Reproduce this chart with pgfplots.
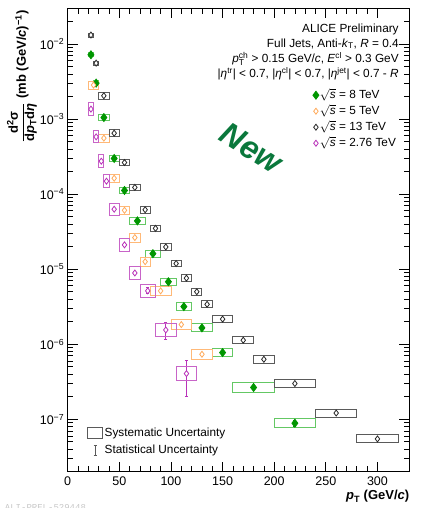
\documentclass[border=0pt]{standalone}
\usepackage{pgfplots}
\pgfplotsset{compat=1.18}
\usepackage{pgfplotstable}
\usepackage{fontspec}
\setmainfont{Liberation Sans}
\setmonofont{Liberation Mono}

\definecolor{gM}{RGB}{0,150,0}
\definecolor{gB}{RGB}{100,200,100}
\definecolor{oM}{RGB}{255,170,90}
\definecolor{oB}{RGB}{255,185,120}
\definecolor{kM}{RGB}{40,40,40}
\definecolor{kB}{RGB}{90,90,90}
\definecolor{pM}{RGB}{185,50,185}
\definecolor{pB}{RGB}{200,100,200}
\definecolor{newgreen}{RGB}{10,120,60}

\newcommand{\sm}[1]{\mbox{\fontsize{8.5}{8.5}\selectfont #1}}

% columns: pT centre, cross section, half bin width, rel. syst., stat +, stat -
\pgfplotstableread{
x y hw sys sp sm
22.5 7.2e-3 2.5 0.06 0 0
27.5 3.02e-3 2.5 0.07 0 0
35 1.05e-3 5 0.11 0 0
45 2.99e-4 5 0.11 0 0
55 1.12e-4 5 0.11 0 0
67.5 4.4e-5 7.5 0.12 0 0
82.5 1.61e-5 7.5 0.12 0 0
97.5 6.8e-6 7.5 0.12 0 0
112.5 3.17e-6 7.5 0.13 0 0
130 1.65e-6 10 0.13 0.05e-6 0.05e-6
150 7.74e-7 10 0.13 0.03e-6 0.03e-6
180 2.65e-7 20 0.15 0.016e-6 0.016e-6
220 8.85e-8 20 0.15 0.007e-6 0.007e-6
}\tabEight

\pgfplotstableread{
x y hw sys sp sm
25 2.84e-3 5 0.13 0 0
35 5.58e-4 5 0.13 0 0
45 1.63e-4 5 0.13 0 0
55 6.1e-5 5 0.14 0 0
65 2.64e-5 5 0.15 0 0
75 1.26e-5 5 0.15 0 0
90 5.14e-6 10 0.16 0 0
110 1.83e-6 10 0.16 0.05e-6 0.05e-6
130 7.35e-7 10 0.16 0.03e-6 0.03e-6
}\tabFive

\pgfplotstableread{
x y hw sys sp sm
22.5 1.32e-2 2.5 0.06 0 0
27.5 5.58e-3 2.5 0.06 0 0
35 2.05e-3 5 0.12 0 0
45 6.5e-4 5 0.11 0 0
55 2.64e-4 5 0.11 0 0
65 1.23e-4 5 0.11 0 0
75 6.2e-5 5 0.11 0 0
85 3.5e-5 5 0.11 0 0
95 1.98e-5 5 0.11 0 0
105 1.19e-5 5 0.11 0 0
115 7.6e-6 5 0.11 0 0
125 5.0e-6 5 0.11 0 0
135 3.4e-6 5 0.11 0 0
150 2.16e-6 10 0.12 0 0
170 1.13e-6 10 0.12 0 0
190 6.3e-7 10 0.12 0 0
220 2.99e-7 20 0.13 0 0
260 1.21e-7 20 0.13 0 0
300 5.47e-8 20 0.13 0 0
}\tabThirteen

\pgfplotstableread{
x y hw sys sp sm
22.5 1.36e-3 2.5 0.21 0 0
27.5 5.8e-4 2.5 0.20 0 0
32.5 2.75e-4 2.5 0.22 0 0
37.5 1.49e-4 2.5 0.22 0 0
45 6.3e-5 5 0.21 0 0
55 2.11e-5 5 0.21 0 0
65 8.9e-6 5 0.21 0.4e-6 0.4e-6
77.5 5.14e-6 7.5 0.22 0.5e-6 0.45e-6
95 1.55e-6 10 0.23 0.43e-6 0.38e-6
115 4.06e-7 10 0.24 2.04e-7 2.06e-7
}\tabTwo

\pgfplotsset{
  sysbox/.style={scatter, only marks, mark=square, mark size=1pt, forget plot,
    scatter/use mapped color={draw=#1, fill=none},
    mark options={line width=0.9pt},
    visualization depends on={\thisrow{hw}*1.03202 \as \bw},
    visualization depends on={ln(1+\thisrow{sys})/ln(10)*75 \as \bh},
    scatter/@pre marker code/.append style={/tikz/xscale=\bw,/tikz/yscale=\bh}},
  ptmark/.style n args={3}{only marks, mark=diamond*, mark size=#2, color=#1,
    mark options={line width=0.8pt, fill=#3, draw=#1},
    error bars/.cd, y dir=both, y explicit,
    error bar style={line width=0.8pt, #1},
    error mark options={rotate=90, mark size=1.5pt, #1, line width=0.8pt}},
}

\begin{document}
\begin{tikzpicture}
\begin{axis}[name=ax,
  scale only axis, width=341.6pt, height=463.2pt,
  xmin=0, xmax=331, ymode=log, ymin=2e-8, ymax=3e-2,
  axis line style={line width=0.8pt, black},
  tick align=inside, major tick length=10pt, minor tick length=5.5pt,
  tick style={line width=0.7pt, black},
  xtick={0,50,...,300}, minor x tick num=4,
  ytick={1e-7,1e-6,1e-5,1e-4,1e-3,1e-2},
  yticklabels={10\textsuperscript{−7},10\textsuperscript{−6},10\textsuperscript{−5},10\textsuperscript{−4},10\textsuperscript{−3},10\textsuperscript{−2}},
  minor ytick={2e-8,3e-8,4e-8,5e-8,6e-8,7e-8,8e-8,9e-8,
    2e-7,3e-7,4e-7,5e-7,6e-7,7e-7,8e-7,9e-7,
    2e-6,3e-6,4e-6,5e-6,6e-6,7e-6,8e-6,9e-6,
    2e-5,3e-5,4e-5,5e-5,6e-5,7e-5,8e-5,9e-5,
    2e-4,3e-4,4e-4,5e-4,6e-4,7e-4,8e-4,9e-4,
    2e-3,3e-3,4e-3,5e-3,6e-3,7e-3,8e-3,9e-3,
    2e-2,3e-2},
  ticklabel style={font=\fontsize{12.5}{14}\selectfont},
  xticklabel style={yshift=-2pt},
  /pgf/number format/assume math mode=true,
  legend style={draw=none, fill=none, at={(0.717,0.828)}, anchor=north west,
    inner sep=0pt, row sep=2pt, font=\fontsize{11.8}{14}\selectfont,
    nodes={inner sep=1pt, text height=9pt, text depth=3pt}},
  legend cell align=left,
  legend image code/.code={\draw[#1] plot coordinates {(3pt,0pt)};},
]
\addplot[sysbox=gB] table[x=x,y=y]{\tabEight};
\addplot[sysbox=oB] table[x=x,y=y]{\tabFive};
\addplot[sysbox=kB] table[x=x,y=y]{\tabThirteen};
\addplot[sysbox=pB] table[x=x,y=y]{\tabTwo};

\addplot[ptmark={gM}{4pt}{gM}] table[x=x,y=y,y error plus=sp,y error minus=sm]{\tabEight};
\addlegendentry{$\sqrt{\mbox{\textit{s}}}$ = 8 TeV}
\addplot[ptmark={oM}{3pt}{white}] table[x=x,y=y,y error plus=sp,y error minus=sm]{\tabFive};
\addlegendentry{$\sqrt{\mbox{\textit{s}}}$ = 5 TeV}
\addplot[ptmark={kM}{3pt}{white}] table[x=x,y=y,y error plus=sp,y error minus=sm]{\tabThirteen};
\addlegendentry{$\sqrt{\mbox{\textit{s}}}$ = 13 TeV}
\addplot[ptmark={pM}{3pt}{white}] table[x=x,y=y,y error plus=sp,y error minus=sm]{\tabTwo};
\addlegendentry{$\sqrt{\mbox{\textit{s}}}$ = 2.76 TeV}

\node[anchor=base east, font=\fontsize{11.8}{14}\selectfont, inner sep=0pt] at (rel axis cs:0.969,0.9477) {ALICE Preliminary};
\node[anchor=base east, font=\fontsize{11.8}{14}\selectfont, inner sep=0pt] at (rel axis cs:0.969,0.9164) {Full Jets, Anti-\textit{k}\textsubscript{T}, \textit{R} = 0.4};
\node[anchor=base east, font=\fontsize{11.8}{14}\selectfont, inner sep=0pt] at (rel axis cs:0.969,0.883) {\textit{p}$^{\sm{ch}}_{\sm{T}}$ > 0.15 GeV/\textit{c}, \textit{E}\textsuperscript{cl} > 0.3 GeV};
\node[anchor=base east, font=\fontsize{11.8}{14}\selectfont, inner sep=0pt] at (rel axis cs:0.969,0.8496) {|\textit{η}\textsuperscript{tr}| < 0.7, |\textit{η}\textsuperscript{cl}| < 0.7, |\textit{η}\textsuperscript{jet}| < 0.7 - \textit{R}};

\node[rotate=-32, font=\fontsize{32}{32}\selectfont\bfseries\itshape, text=newgreen, inner sep=0pt] at (rel axis cs:0.538,0.6984) {New};
\end{axis}

\begin{axis}[
  scale only axis, width=341.6pt, height=463.2pt,
  xmin=0, xmax=331, ymin=0, ymax=1, hide axis,
  legend style={draw=none, fill=none, at={(0.0565,0.0993)}, anchor=north west,
    inner sep=0pt, row sep=2pt, font=\fontsize{11.8}{14}\selectfont,
    nodes={inner sep=1.5pt, text height=9pt, text depth=3pt}},
  legend cell align=left,
]
\addlegendimage{legend image code/.code={\draw[kB, line width=0.9pt] (0pt,-5.5pt) rectangle (15pt,6pt);}}
\addlegendentry{Systematic Uncertainty}
\addlegendimage{legend image code/.code={\draw[kB, line width=0.8pt] (7.5pt,-5pt) -- (7.5pt,5pt) (6pt,-5pt) -- (9pt,-5pt) (6pt,5pt) -- (9pt,5pt);}}
\addlegendentry{Statistical Uncertainty}
\end{axis}

\path (ax.north west) ++(-45.7pt,-2pt) node[rotate=90, anchor=east, inner sep=0pt, font=\fontsize{13}{15}\selectfont\bfseries] {$\displaystyle\frac{\mbox{d\textsuperscript{2}σ}}{\mbox{d\textit{p}\textsubscript{T}d\textit{η}}}$ (mb (GeV/\textit{c})\textsuperscript{−1})};

\path (ax.south east) ++(0pt,-28.3pt) node[anchor=base east, inner sep=0pt, font=\fontsize{13}{14}\selectfont\bfseries] {\textit{p}\textsubscript{T} (GeV/\textit{c})};

\path (ax.south west) ++(-63pt,-38.3pt) node[anchor=base west, inner sep=0pt, font=\fontsize{9}{10}\selectfont\ttfamily, text=black!22] {ALI-PREL-529448};

\path (ax.south west) ++(-67.7pt,-36.3pt) coordinate (bbl);
\path (ax.north east) ++(10.7pt,8.3pt) coordinate (btr);
\pgfresetboundingbox
\path[use as bounding box] (bbl) rectangle (btr);
\end{tikzpicture}
\end{document}
